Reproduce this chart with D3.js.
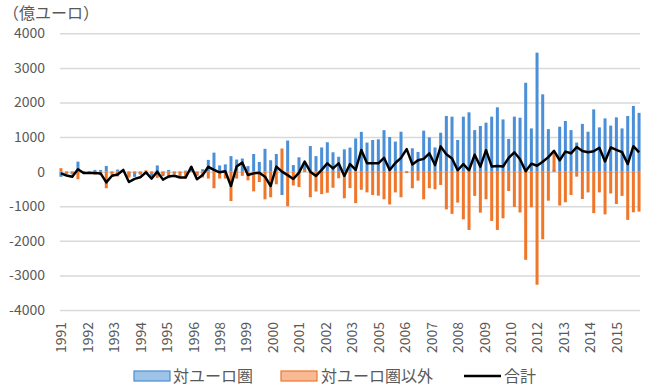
<!DOCTYPE html>
<html>
<head>
<meta charset="utf-8">
<script src="https://cdn.jsdelivr.net/npm/d3@7"></script>
<style>
  body { margin: 0; background: #fff; }
  text { font-family: "Noto Sans CJK JP", "Noto Sans", sans-serif; fill: #595959; }
</style>
</head>
<body>
<div id="chart"></div>
<script>
// quarterly, 1991Q1 .. 2016Q3
var quarters = d3.range(103).map(function(i){ return (1991 + Math.floor(i / 4)) + "Q" + (i % 4 + 1); });

var euroArea = [
  -150, -60, -80, 290, -60, 20, 50, 50, 165, -30,
  60, 50, -130, -150, -80, -60, -140, 180, -130, 50,
  -40, -30, 30, 150, -120, 70, 340, 550, 180, 210,
  450, 350, 380, 160, 510, 280, 660, 330, 510, -675,
  900, 190, 415, 220, 740, 450, 700, 850, 560, 430,
  645, 695, 960, 1150, 840, 915, 935, 1200, 1000, 870,
  1155, 20, 675, 570, 1185, 990, 700, 1125, 1610, 1590,
  915, 1590, 1715, 1200, 1320, 1415, 1590, 1860, 1510, 945,
  1590, 1560, 2570, 1250, 3440, 2235, 1230, 60, 1300, 1465,
  1200, 840, 1380, 1155, 1800, 1280, 1540, 1330, 1570, 1250,
  1610, 1900, 1700
];
var nonEuro = [
  100, -50, -70, -220, 20, -60, -90, -100, -480, -90,
  -140, 10, -170, -60, -80, 40, -60, -180, -100, -190,
  -80, -140, -200, -10, -100, -170, -200, -480, -200, -200,
  -850, -200, -120, -250, -570, -300, -800, -740, -365, 670,
  -1000, -400, -445, 70, -740, -575, -650, -610, -465, -190,
  -770, -475, -910, -525, -600, -675, -695, -800, -950, -600,
  -740, -40, -480, -260, -800, -480, -510, -385, -1090, -1220,
  -895, -1380, -1685, -700, -1185, -800, -1425, -1685, -1350, -560,
  -1020, -1180, -2550, -1030, -3270, -1955, -840, 540, -980, -885,
  -675, -145, -790, -600, -1200, -600, -1235, -630, -935, -700,
  -1395, -1175, -1155
];
var total = [
  -50, -110, -150, 70, -40, -40, -40, -50, -310, -120,
  -80, 50, -300, -210, -160, -20, -200, 0, -230, -140,
  -120, -170, -170, 140, -220, -100, 140, 50, -20, 10,
  -415, 150, 260, -95, -50, -30, -145, -415, 145, 0,
  -100, -210, -30, 290, 0, -125, 50, 240, 95, 240,
  -125, 220, 50, 625, 240, 240, 240, 400, 50, 250,
  400, 650, 210, 330, 370, 530, 190, 730, 500, 380,
  40, 220, 40, 490, 145, 620, 150, 160, 150, 400,
  560, 360, 10, 230, 170, 285, 420, 600, 330, 580,
  530, 710, 595, 560, 590, 690, 295, 700, 630, 565,
  220, 735, 560
];

var yTicks = [4000, 3000, 2000, 1000, 0, -1000, -2000, -3000, -4000];
var yTickLabels = ["4000", "3000", "2000", "1000", "0", "-1000", "-2000", "-3000", "-4000"];
// axis labels shown every 14 months
var yearLabels = ["1991", "1992", "1993", "1994", "1995", "1996", "1998", "1999", "2000", "2001", "2002",
                  "2003", "2005", "2006", "2007", "2008", "2009", "2010", "2012", "2013", "2014", "2015"];

var seriesNames = ["対ユーロ圏", "対ユーロ圏以外", "合計"];
var colors = ["#4a8fd8", "#f0762a", "#000000"];

(function(){
  var width = 647, height = 388;
  var margin = {top: 33.3, right: 640, bottom: 310, left: 60};

  var svg = d3.select("#chart").append("svg")
    .attr("width", width)
    .attr("height", height);

  // month based position (date axis, base unit = month)
  var x = d3.scaleLinear().domain([0, 307]).range([margin.left, margin.right]);
  var y = d3.scaleLinear().domain([-4000, 4000]).range([margin.bottom, margin.top]);

  var monthOf = function(i){ return i * 3 + 0.5; };

  svg.append("text")
    .attr("x", 3)
    .attr("y", 19)
    .style("font-size", "16px")
    .text("（億ユーロ）");

  var yAxis = svg.append("g")
    .attr("transform", "translate(" + margin.left + ",0)")
    .call(d3.axisLeft(y)
      .tickValues(yTicks)
      .tickFormat(function(d, i){ return yTickLabels[i]; })
      .tickSize(-(margin.right - margin.left))
      .tickPadding(15));
  yAxis.select(".domain").remove();
  yAxis.selectAll("line").attr("stroke", "#d9d9d9").attr("stroke-width", 1.5);
  yAxis.selectAll("text").style("font-size", "14px").attr("fill", "#595959");

  var xAxis = svg.append("g")
    .attr("transform", "translate(0," + margin.bottom + ")")
    .call(d3.axisBottom(x)
      .tickValues(yearLabels.map(function(d, k){ return k * 14 + 0.5; }))
      .tickFormat(function(d, k){ return yearLabels[k]; })
      .tickSize(0));
  xAxis.select(".domain").remove();
  xAxis.selectAll("text")
    .attr("transform", "rotate(-90)")
    .attr("x", -12)
    .attr("y", 0)
    .attr("dy", "0.35em")
    .style("text-anchor", "end")
    .style("font-size", "14px")
    .attr("fill", "#595959");

  var barW = 3;

  svg.append("g")
    .selectAll("rect")
    .data(euroArea)
    .enter()
    .append("rect")
    .attr("x", function(d, i){ return x(monthOf(i)) - barW / 2; })
    .attr("y", function(d){ return y(Math.max(0, d)); })
    .attr("width", barW)
    .attr("height", function(d){ return Math.abs(y(d) - y(0)); })
    .attr("fill", colors[0]);

  svg.append("g")
    .selectAll("rect")
    .data(nonEuro)
    .enter()
    .append("rect")
    .attr("x", function(d, i){ return x(monthOf(i)) - barW / 2; })
    .attr("y", function(d){ return y(Math.max(0, d)); })
    .attr("width", barW)
    .attr("height", function(d){ return Math.abs(y(d) - y(0)); })
    .attr("fill", colors[1]);

  var line = d3.line()
    .x(function(d, i){ return x(monthOf(i)); })
    .y(function(d){ return y(d); });

  svg.append("path")
    .datum(total)
    .attr("d", line)
    .attr("fill", "none")
    .attr("stroke", colors[2])
    .attr("stroke-width", 2.5)
    .attr("stroke-linejoin", "round");

  // legend
  var legendY = 376;
  var lg = svg.append("g");
  lg.append("rect").attr("x", 134).attr("y", legendY - 5).attr("width", 36).attr("height", 10)
    .attr("fill", "#9dc3e6").attr("stroke", colors[0]).attr("stroke-width", 1.2);
  lg.append("text").attr("x", 173).attr("y", legendY).attr("dy", "0.35em")
    .style("font-size", "16px").text(seriesNames[0]);
  lg.append("rect").attr("x", 281).attr("y", legendY - 5).attr("width", 36).attr("height", 10)
    .attr("fill", "#f8b995").attr("stroke", colors[1]).attr("stroke-width", 1.2);
  lg.append("text").attr("x", 321).attr("y", legendY).attr("dy", "0.35em")
    .style("font-size", "16px").text(seriesNames[1]);
  lg.append("line").attr("x1", 464).attr("x2", 501).attr("y1", legendY).attr("y2", legendY)
    .attr("stroke", colors[2]).attr("stroke-width", 2.5);
  lg.append("text").attr("x", 504).attr("y", legendY).attr("dy", "0.35em")
    .style("font-size", "16px").text(seriesNames[2]);
})();
</script>
</body>
</html>
